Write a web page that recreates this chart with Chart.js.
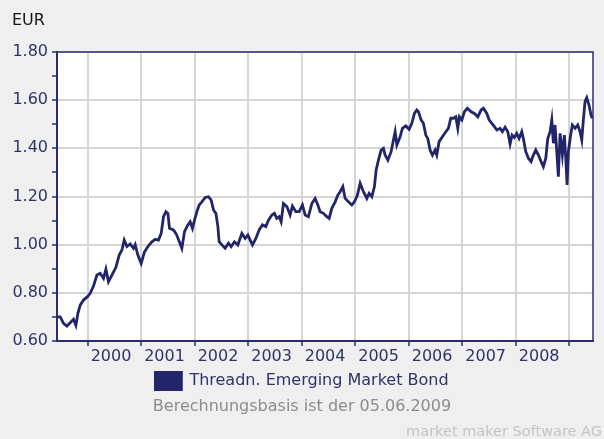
<!DOCTYPE html>
<html>
<head>
<meta charset="utf-8">
<script src="https://cdn.jsdelivr.net/npm/chart.js@4/dist/chart.umd.min.js"></script>
<style>
html,body{margin:0;padding:0;background:#efefef;}
#wrap{width:604px;height:439px;position:relative;}
canvas{display:block;}
</style>
</head>
<body>
<div id="wrap"><canvas id="c" width="604" height="439"></canvas></div>
<script>
// ---- data (x as decimal years, y in EUR) ----
const seriesName = "Threadn. Emerging Market Bond";
const unitLabel = "EUR";
const basisText = "Berechnungsbasis ist der 05.06.2009";
const sourceText = "market maker Software AG";
const yearTicks = [2000,2001,2002,2003,2004,2005,2006,2007,2008,2009];
const yearLabels = ["2000","2001","2002","2003","2004","2005","2006","2007","2008",""];
const yTickValues = [0.6,0.7,0.8,0.9,1.0,1.1,1.2,1.3,1.4,1.5,1.6,1.7,1.8];
const dates = [1999.43,1999.49,1999.552,1999.615,1999.677,1999.738,1999.783,1999.821,1999.864,1999.925,
2000.0,2000.05,2000.112,2000.176,2000.237,2000.299,2000.344,2000.392,2000.456,2000.531,
2000.592,2000.643,2000.686,2000.736,2000.798,2000.859,2000.891,2000.941,2001.003,2001.065,
2001.128,2001.203,2001.265,2001.326,2001.377,2001.42,2001.465,2001.502,2001.532,2001.606,
2001.657,2001.694,2001.763,2001.812,2001.875,2001.918,2001.961,2001.999,2002.044,2002.087,
2002.137,2002.199,2002.26,2002.311,2002.354,2002.399,2002.436,2002.46,2002.511,2002.572,
2002.634,2002.684,2002.746,2002.809,2002.884,2002.946,2002.996,2003.039,2003.082,2003.146,
2003.207,2003.269,2003.333,2003.381,2003.445,2003.493,2003.538,2003.581,2003.618,2003.661,
2003.725,2003.786,2003.829,2003.893,2003.955,
2004.016,2004.067,2004.128,2004.192,2004.253,2004.304,2004.346,2004.408,2004.472,2004.515,
2004.565,2004.627,2004.678,2004.72,2004.771,2004.814,2004.875,2004.939,2004.988,2005.044,
2005.094,2005.156,2005.219,2005.262,2005.313,2005.361,2005.393,2005.436,2005.486,2005.529,
2005.561,2005.612,2005.673,2005.716,2005.748,2005.78,2005.841,2005.884,2005.948,2006.009,
2006.06,2006.108,2006.153,2006.183,2006.233,2006.276,2006.321,2006.358,2006.401,2006.445,
2006.495,2006.526,2006.57,2006.631,2006.695,2006.743,2006.788,2006.837,2006.882,2006.919,
2006.949,2006.994,2007.042,2007.098,2007.168,2007.229,2007.293,2007.354,2007.397,2007.461,
2007.504,2007.554,2007.603,2007.648,2007.709,2007.752,2007.802,2007.853,2007.896,2007.933,
2007.976,
2008.021,2008.064,2008.114,2008.144,2008.189,2008.238,2008.288,2008.331,2008.376,2008.425,
2008.475,2008.518,2008.563,2008.6,2008.643,2008.675,2008.705,2008.736,2008.768,2008.798,
2008.83,2008.873,2008.91,2008.936,2008.961,2008.985,2009.022,2009.059,2009.11,2009.16,
2009.203,2009.235,2009.265,2009.296,2009.328,2009.37,2009.408,2009.432];
const values = [0.70,0.70,0.673,0.662,0.676,0.69,0.665,0.715,0.749,0.77,
0.784,0.798,0.828,0.874,0.881,0.86,0.898,0.846,0.874,0.906,
0.957,0.978,1.019,0.992,1.003,0.985,1.0,0.957,0.922,0.97,
0.992,1.012,1.022,1.019,1.047,1.116,1.137,1.13,1.068,1.061,
1.045,1.025,0.985,1.054,1.082,1.095,1.068,1.102,1.137,1.165,
1.178,1.196,1.199,1.185,1.144,1.13,1.075,1.012,0.999,0.985,
1.006,0.992,1.012,0.999,1.047,1.026,1.04,1.019,0.999,1.026,
1.061,1.082,1.075,1.102,1.123,1.13,1.109,1.116,1.095,1.171,
1.158,1.123,1.16,1.137,1.137,
1.165,1.123,1.116,1.171,1.192,1.165,1.137,1.13,1.116,1.109,
1.151,1.178,1.206,1.22,1.241,1.192,1.178,1.165,1.178,1.206,
1.255,1.22,1.192,1.213,1.199,1.241,1.31,1.351,1.393,1.40,
1.372,1.351,1.386,1.435,1.469,1.414,1.448,1.483,1.493,1.479,
1.504,1.545,1.559,1.552,1.518,1.504,1.455,1.441,1.393,1.372,
1.393,1.372,1.428,1.448,1.469,1.483,1.525,1.525,1.531,1.483,
1.531,1.518,1.552,1.566,1.552,1.545,1.531,1.559,1.566,1.545,
1.518,1.504,1.49,1.476,1.483,1.469,1.488,1.469,1.418,1.455,
1.445,
1.462,1.441,1.469,1.441,1.386,1.359,1.345,1.372,1.393,1.372,
1.345,1.324,1.359,1.441,1.469,1.518,1.421,1.497,1.386,1.282,
1.462,1.372,1.455,1.359,1.248,1.386,1.448,1.497,1.483,1.497,
1.469,1.435,1.518,1.594,1.61,1.58,1.538,1.525];

// ---- styling ----
const FONT = "'DejaVu Sans', sans-serif";
const NAVY = '#2b2e6e';
const LINE = '#22256a';
const GRID = '#d6d6d6';
const LABEL = '#303368';
Chart.defaults.font.family = FONT;

const n = Math.min(dates.length, values.length);
const points = [];
for (let i = 0; i < n; i++) points.push({x: dates[i], y: values[i]});

const decorPlugin = {
  id: 'decor',
  beforeDraw(chart) {
    const {ctx, chartArea: a} = chart;
    ctx.save();
    ctx.fillStyle = '#ffffff';
    ctx.fillRect(a.left, a.top, a.right - a.left, a.bottom - a.top);
    ctx.restore();
  },
  afterDraw(chart) {
    const {ctx, chartArea: a} = chart;
    ctx.save();
    ctx.strokeStyle = NAVY;
    ctx.lineWidth = 1.5;
    ctx.strokeRect(a.left, a.top, a.right - a.left, a.bottom - a.top);
    ctx.textBaseline = 'middle';
    ctx.fillStyle = '#151515';
    ctx.font = "16px " + FONT;
    ctx.textAlign = 'left';
    ctx.fillText(unitLabel, 12, 21);
    ctx.fillStyle = '#8c8c8c';
    ctx.font = "16px " + FONT;
    ctx.textAlign = 'center';
    ctx.fillText(basisText, 302, 407);
    ctx.fillStyle = '#c4c4c4';
    ctx.font = "14.5px " + FONT;
    ctx.textAlign = 'right';
    ctx.fillText(sourceText, 602, 432);
    ctx.restore();
  }
};

new Chart(document.getElementById('c'), {
  type: 'line',
  data: {
    datasets: [{
      label: seriesName,
      data: points,
      borderColor: LINE,
      backgroundColor: LINE,
      borderWidth: 2.8,
      pointRadius: 0,
      tension: 0,
      fill: false
    }]
  },
  options: {
    responsive: false,
    animation: false,
    devicePixelRatio: 1,
    layout: {padding: {top: 52, left: 11, right: 11, bottom: 39.5}},
    plugins: {
      legend: {
        position: 'bottom',
        labels: {
          boxWidth: 26, boxHeight: 17, padding: 6,
          color: LABEL,
          font: {size: 16, family: FONT}
        }
      },
      tooltip: {enabled: false}
    },
    scales: {
      x: {
        type: 'linear',
        min: 1999.43,
        max: 2009.445,
        afterBuildTicks(scale) { scale.ticks = yearTicks.map(v => ({value: v})); },
        afterFit(scale) { scale.height = 25.5; },
        grid: {color: GRID, lineWidth: 2, tickLength: 5, tickColor: NAVY, tickWidth: 1.5},
        border: {color: NAVY, width: 2},
        ticks: {
          autoSkip: false, maxRotation: 0, padding: 1,
          labelOffset: 23.5,
          color: LABEL,
          font: {size: 16, family: FONT},
          callback(value, index) { return yearLabels[index] !== undefined ? yearLabels[index] : ''; }
        }
      },
      y: {
        min: 0.6,
        max: 1.8,
        afterBuildTicks(scale) { scale.ticks = yTickValues.map(v => ({value: v})); },
        afterFit(scale) { scale.width = 46; },
        grid: {
          color(ctx) {
            const v = ctx.tick ? Math.round(ctx.tick.value * 10) : 0;
            return v % 2 === 0 ? GRID : 'rgba(0,0,0,0)';
          },
          lineWidth: 2, tickLength: 5, tickColor: NAVY, tickWidth: 1.5
        },
        border: {color: NAVY, width: 2},
        ticks: {
          autoSkip: false, padding: 4,
          color: LABEL,
          font: {size: 16, family: FONT},
          callback(value) {
            const v = Math.round(value * 10);
            return v % 2 === 0 ? (v / 10).toFixed(2) : '';
          }
        }
      }
    }
  },
  plugins: [decorPlugin]
});
</script>
</body>
</html>
